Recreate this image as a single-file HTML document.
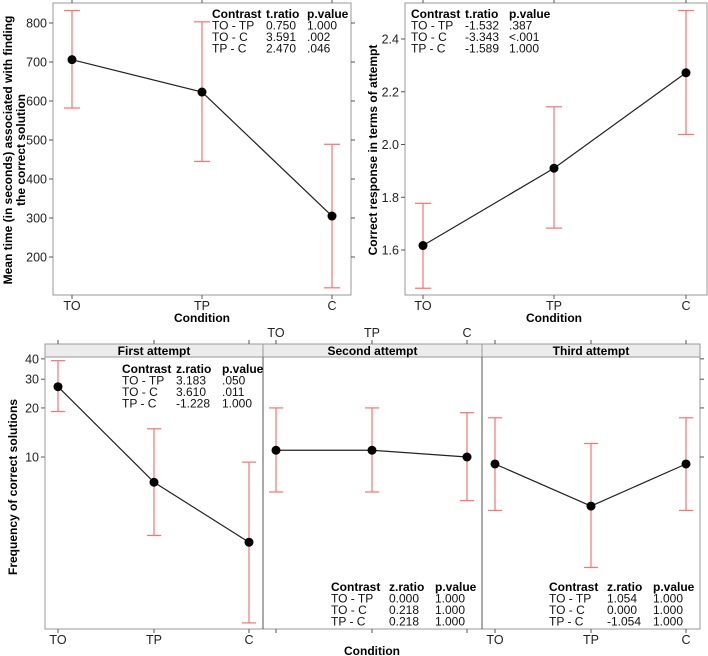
<!DOCTYPE html>
<html><head><meta charset="utf-8"><style>
body{margin:0;background:#fff;width:708px;height:656px;overflow:hidden}
svg{display:block;font-family:"Liberation Sans",Arial,sans-serif}
</style></head><body>
<svg id="s" width="708" height="656" viewBox="0 0 708 656"></svg>
<script>
const conds=["TO","TP","C"];
// top-left: mean time
const timeMean=[706,623,305];
const timeLo=[582,445,121];
const timeHi=[832,803,489];
const timeTicks=[200,300,400,500,600,700,800];
// top-right: attempt
const attMean=[1.617,1.91,2.272];
const attLo=[1.455,1.683,2.038];
const attHi=[1.777,2.143,2.508];
const attTicks=[1.6,1.8,2.0,2.2,2.4];
// bottom: frequency (log scale)
const panelTitles=["First attempt","Second attempt","Third attempt"];
const freqMean=[[27,7.0,3.0],[11.0,11.0,10.0],[9.06,5.0,9.06]];
const freqLo=[[19,3.3,0.96],[6.1,6.1,5.4],[4.7,2.1,4.7]];
const freqHi=[[39,14.9,9.3],[20,20,18.7],[17.4,12.1,17.4]];
const freqTicks=[10,20,30,40];
const tables=[
 {hdr:["Contrast","t.ratio","p.value"],rows:[["TO - TP","0.750","1.000"],["TO - C","3.591"," .002"],["TP - C","2.470"," .046"]]},
 {hdr:["Contrast","t.ratio","p.value"],rows:[["TO - TP","-1.532",".387"],["TO - C","-3.343","<.001"],["TP - C","-1.589","1.000"]]},
 {hdr:["Contrast","z.ratio","p.value"],rows:[["TO - TP","3.183",".050"],["TO - C","3.610",".011"],["TP - C","-1.228","1.000"]]},
 {hdr:["Contrast","z.ratio","p.value"],rows:[["TO - TP","0.000","1.000"],["TO - C","0.218","1.000"],["TP - C","0.218","1.000"]]},
 {hdr:["Contrast","z.ratio","p.value"],rows:[["TO - TP","1.054","1.000"],["TO - C","0.000","1.000"],["TP - C","-1.054","1.000"]]}
];
const S=document.getElementById('s');
const NS="http://www.w3.org/2000/svg";
function el(t,a,p,txt){const e=document.createElementNS(NS,t);for(const k in a)e.setAttribute(k,a[k]);if(txt!==undefined)e.textContent=txt;(p||S).appendChild(e);return e;}
function line(x1,y1,x2,y2,st,w,g){return el('line',{x1,y1,x2,y2,stroke:st,'stroke-width':w||1},g);}
function text(x,y,s,o,g){return el('text',Object.assign({x,y,'font-size':12.5,fill:'#222'},o||{}),g,s);}

function series(g,xs,ys,ylo,yhi,cap){
  const eg=el('g',{},g);
  
  
  for(let i=0;i<xs.length;i++){
    line(xs[i],ylo[i],xs[i],yhi[i],'#ff7070',1.2,eg);
    line(xs[i]-cap,ylo[i],xs[i]+cap,ylo[i],'#ff7070',1.2,eg);
    line(xs[i]-cap,yhi[i],xs[i]+cap,yhi[i],'#ff7070',1.2,eg);
  }
  const pts=xs.map((x,i)=>x+','+ys[i]).join(' ');
  const pl=el('polyline',{points:pts,fill:'none',stroke:'#222','stroke-width':1.2},g);
  
  
  for(let i=0;i<xs.length;i++){
    const c=el('circle',{cx:xs[i],cy:ys[i],r:4.5,fill:'#000'},g);
    
    
  }
}
function table(g,t,x,y,cols,name){
  const tg=el('g',{},g);
  
  
  t.hdr.forEach((h,j)=>text(x+cols[j],y,h,{'font-weight':'bold','font-size':12,fill:'#000'},tg));
  t.rows.forEach((r,i)=>r.forEach((c,j)=>text(x+cols[j],y+11.5*(i+1),c,{'font-size':12,fill:'#111','xml:space':'preserve'},tg)));
}

// ---- Top-left
(function(){
  const g=el('g',{});
  
  
  const L=53,R=351,T=3,B=295;
  const xs=[72,202,332];
  const y=v=>257-(v-200)*(234/600);
  el('rect',{x:L,y:T,width:R-L,height:B-T,fill:'none',stroke:'#999'},g);
  timeTicks.forEach(v=>{line(L-4,y(v),L,y(v),'#555',1,g);line(R,y(v),R+4,y(v),'#555',1,g);text(L-6,y(v)+4.5,v,{'text-anchor':'end'},g);});
  xs.forEach((x,i)=>{line(x,B,x,B+4,'#555',1,g);line(x,T-4,x,T,'#555',1,g);text(x,310,conds[i],{'text-anchor':'middle'},g);});
  text(202,322,'Condition',{'text-anchor':'middle','font-weight':'bold','font-size':12,fill:'#000'},g);
  const yl=el('text',{transform:'translate(12,150) rotate(-90)','text-anchor':'middle','font-weight':'bold','font-size':12,fill:'#000'},g);
  
  
  el('tspan',{x:0,y:0},yl,'Mean time (in seconds) associated with finding');
  el('tspan',{x:0,y:13},yl,'the correct solution');
  series(g,xs,timeMean.map(y),timeLo.map(y),timeHi.map(y),8);
  table(g,tables[0],212,18,[0,54,95],'contrast-table-time');
})();
// ---- Top-right
(function(){
  const g=el('g',{});
  
  
  const L=405,R=707,T=3,B=295;
  const xs=[423,554,686];
  const y=v=>250-(v-1.6)*(211/0.8);
  el('rect',{x:L,y:T,width:R-L,height:B-T,fill:'none',stroke:'#999'},g);
  attTicks.forEach(v=>{line(L-4,y(v),L,y(v),'#555',1,g);text(L-6,y(v)+4.5,v.toFixed(1),{'text-anchor':'end'},g);});
  xs.forEach((x,i)=>{line(x,B,x,B+4,'#555',1,g);line(x,T-4,x,T,'#555',1,g);text(x,310,conds[i],{'text-anchor':'middle'},g);});
  text(554,322,'Condition',{'text-anchor':'middle','font-weight':'bold','font-size':12,fill:'#000'},g);
  const yl=text(0,0,'Correct response in terms of attempt',{transform:'translate(377,150) rotate(-90)','text-anchor':'middle','font-weight':'bold','font-size':12,fill:'#000'},g);
  
  
  series(g,xs,attMean.map(y),attLo.map(y),attHi.map(y),8);
  table(g,tables[1],411,18,[0,54,98],'contrast-table-attempt');
})();
// ---- Bottom
(function(){
  const g=el('g',{});
  
  
  const T=344,ST=357,B=629;
  const lefts=[45,263,482],rights=[263,482,700];
  const xoff=[13,109,204];
  const y=v=>457-Math.log10(v/10)*163;
  el('rect',{x:45,y:T,width:655,height:B-T,fill:'none',stroke:'#999'},g);
  freqTicks.forEach(v=>{line(41,y(v),45,y(v),'#555',1,g);line(700,y(v),704,y(v),'#555',1,g);text(39,y(v)+4.5,v,{'text-anchor':'end'},g);});
  const yl=text(0,0,'Frequency of correct solutions',{transform:'translate(17,487) rotate(-90)','text-anchor':'middle','font-weight':'bold','font-size':12,fill:'#000'},g);
  
  
  const tx=[[122,373,[0,54,100]],[68,591,[0,58,104]],[67,591,[0,58,104]]];
  for(let p=0;p<3;p++){
    const pg=el('g',{},g);
    
    
    const L=lefts[p],R=rights[p];
    const strip=el('rect',{x:L,y:T,width:R-L,height:ST-T,fill:'#ececec',stroke:'#999'},pg);
    
    
    text((L+R)/2,355,panelTitles[p],{'text-anchor':'middle','font-weight':'bold','font-size':12,fill:'#000'},pg);
    line(L,ST,L,B,p?'#555':'#999',1,pg);
    const xs=xoff.map(o=>L+o);
    xs.forEach((x,i)=>{line(x,B,x,B+4,'#555',1,pg);line(x,T-4,x,T,'#555',1,pg);
      if(p!==1)text(x,644,conds[i],{'text-anchor':'middle'},pg);else text(x,337,conds[i],{'text-anchor':'middle'},pg);});
    series(pg,xs,freqMean[p].map(y),freqLo[p].map(y),freqHi[p].map(y),7);
    const t=tx[p];
    table(pg,tables[2+p],p?L+t[0]:t[0],t[1],t[2],'contrast-table-'+['first','second','third'][p]);
  }
  text(372,655,'Condition',{'text-anchor':'middle','font-weight':'bold','font-size':12,fill:'#000'},g);
})();
</script>
</body></html>
